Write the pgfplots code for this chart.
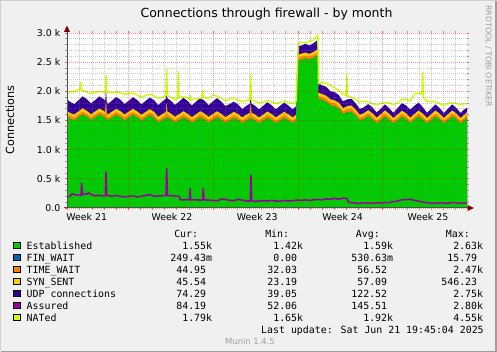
\documentclass[border=0pt]{standalone}
\usepackage{fontspec}
\setmainfont{DejaVu Sans}
\newfontfamily\monofont{DejaVu Sans Mono}
\usepackage{pgfplots}
\pgfplotsset{compat=1.18}
\usepackage{pgfplotstable}
\definecolor{cEst}{HTML}{00CC00}
\definecolor{cFin}{HTML}{0066B3}
\definecolor{cTw}{HTML}{FF8000}
\definecolor{cSyn}{HTML}{FFCC00}
\definecolor{cUdp}{HTML}{330099}
\definecolor{cAss}{HTML}{990099}
\definecolor{cNat}{HTML}{CCFF00}
\definecolor{cBack}{HTML}{F0F0F0}
\definecolor{cShadeA}{HTML}{CFCFCF}
\definecolor{cShadeB}{HTML}{9E9E9E}
\definecolor{cArrow}{HTML}{800000}
\definecolor{cAxis}{HTML}{505050}

\pgfplotstableread{
x est fin tw syn udp
0 1560 0.5 50 55 195
3.0 1525 0.5 50 55 190
7.2 1500 0.5 48 54 180
11.4 1550 0.5 50 55 190
15.6 1600 0.5 52 56 205
19.8 1560 0.5 50 55 200
24.0 1505 0.5 48 54 185
28.2 1550 0.5 50 55 195
32.4 1595 0.5 52 56 210
36.6 1560 0.5 50 55 200
38.3 1540 0.5 50 55 195
39.0 1540 0.5 250 55 200
39.7 1530 0.5 50 55 195
40.8 1500 0.5 48 54 180
45.0 1545 0.5 50 55 190
49.2 1590 0.5 52 56 205
53.4 1555 0.5 50 55 195
57.6 1500 0.5 48 54 180
61.8 1545 0.5 50 55 190
66.0 1590 0.5 52 56 200
70.2 1550 0.5 50 55 195
74.4 1495 0.5 48 54 180
78.6 1540 0.5 50 55 190
82.8 1585 0.5 52 56 200
87.0 1545 0.5 50 55 200
91.2 1460 0.5 48 54 200
95.4 1505 0.5 50 55 215
98.9 1540 0.5 50 56 225
99.6 1550 0.5 200 56 225
100.3 1550 0.5 50 56 225
103.8 1515 0.5 50 55 220
108.0 1460 0.5 48 54 205
112.2 1505 0.5 50 55 215
116.4 1550 0.5 52 56 230
120.6 1510 0.5 50 55 220
124.8 1455 0.5 48 54 200
129.0 1500 0.5 50 55 215
133.2 1550 0.5 52 56 230
137.4 1515 0.5 50 55 220
141.6 1460 0.5 48 54 200
145.8 1505 0.5 50 55 215
150.0 1550 0.5 52 56 225
154.2 1510 0.5 50 55 210
158.4 1455 0.5 48 54 190
162.6 1495 0.5 50 55 180
166.8 1540 0.5 52 56 175
171.0 1505 0.5 50 55 165
175.2 1450 0.5 48 54 145
179.4 1495 0.5 50 55 150
183.0 1530 0.5 50 55 155
183.7 1530 0.5 220 55 160
184.4 1530 0.5 50 55 155
187.8 1500 0.5 50 55 150
192.0 1450 0.5 48 54 140
196.2 1495 0.5 50 55 150
200.4 1545 0.5 52 56 160
204.6 1505 0.5 50 55 150
208.8 1450 0.5 48 54 140
213.0 1495 0.5 50 55 150
217.2 1540 0.5 52 56 160
221.4 1500 0.5 50 55 150
225.6 1450 0.5 48 54 140
229.0 1490 0.5 50 55 145
229.8 2070 0.5 50 55 140
231.0 2520 0.5 50 55 150
234.0 2540 0.5 48 54 140
238.2 2560 0.5 50 55 150
242.4 2540 0.5 48 54 145
246.6 2570 0.5 50 55 150
250.5 2610 0.5 52 56 160
251.2 1870 0.5 50 55 160
255.0 1850 0.5 50 55 150
259.2 1820 0.5 50 55 150
263.4 1760 0.5 48 54 140
267.6 1740 0.5 50 55 140
271.8 1700 0.5 50 55 130
276.0 1610 0.5 48 54 115
280.2 1640 0.5 50 55 115
284.4 1650 0.5 52 56 115
288.6 1580 0.5 50 55 110
292.8 1500 0.5 46 52 100
297.0 1525 0.5 48 54 100
301.2 1570 0.5 50 56 105
305.4 1520 0.5 48 55 100
309.6 1450 0.5 45 52 90
313.8 1505 0.5 48 54 95
318.0 1565 0.5 50 56 105
322.2 1510 0.5 48 55 95
326.4 1445 0.5 45 52 90
330.6 1500 0.5 48 54 110
334.8 1560 0.5 50 56 130
339.0 1520 0.5 48 55 135
343.2 1450 0.5 45 52 140
347.4 1510 0.5 48 54 140
351.6 1565 0.5 50 56 135
355.8 1515 0.5 48 55 110
360.0 1445 0.5 45 52 90
364.2 1505 0.5 48 54 95
368.4 1565 0.5 50 56 105
372.6 1515 0.5 48 55 95
376.8 1445 0.5 45 52 85
381.0 1505 0.5 48 54 95
385.2 1565 0.5 50 56 105
389.4 1515 0.5 48 55 95
393.6 1445 0.5 45 52 85
397.8 1505 0.5 48 54 90
400.0 1550 0.5 45 46 74
}\stacktab

\pgfplotstableread{
x v
0 1950
3.0 2000
7.2 1990
11.4 2030
13.0 2030
13.7 2170
14.5 2020
19.8 1990
24.0 1960
28.2 1980
32.4 2000
36.6 1980
38.3 1980
39.0 2280
39.8 1990
45.0 1970
49.2 1990
53.4 1980
57.6 1950
61.8 1960
66.0 1970
70.2 1940
74.4 1900
78.6 1930
82.8 1950
87.0 1920
91.2 1880
95.4 1900
98.8 1920
99.6 2380
100.4 1930
103.8 1900
108.0 1860
110.5 1880
111.3 2340
112.1 1890
116.4 1910
120.6 1880
122.2 1860
123.0 1920
123.8 1850
129.0 1870
133.2 1880
135.0 1890
135.7 2020
136.4 1890
141.6 1880
145.8 1930
150.0 1920
154.2 1880
158.4 1840
162.6 1870
166.8 1880
171.0 1850
175.2 1820
179.4 1840
183.0 1860
183.7 2300
184.4 1860
188.0 1830
192.0 1800
196.2 1820
200.4 1840
204.6 1820
208.8 1790
213.0 1810
217.2 1830
221.4 1810
225.6 1790
229.0 1820
230.0 2200
231.5 2820
234.0 2840
238.2 2830
242.4 2860
246.6 2880
250.0 2950
250.8 2950
251.5 2130
255.0 2150
259.2 2140
263.4 2100
267.6 2060
271.8 2020
276.0 1960
279.0 1930
279.7 2290
280.4 1920
284.4 1900
288.6 1860
292.8 1820
297.0 1830
301.2 1820
305.4 1790
309.6 1770
313.8 1790
318.0 1810
322.2 1800
326.4 1770
330.6 1800
334.8 1860
339.0 1870
343.2 1830
347.4 1960
351.6 1970
355.0 1950
355.7 2330
356.4 1900
360.0 1820
364.2 1830
368.4 1820
372.6 1790
376.8 1760
381.0 1790
385.2 1810
389.4 1790
393.6 1770
397.8 1790
400.0 1790
}\nattab

\pgfplotstableread{
x v
0 190
3.0 200
5.0 240
7.2 230
11.4 220
14.0 220
14.7 430
15.4 230
19.8 240
22.0 260
24.0 230
28.2 210
32.4 215
36.6 205
38.3 210
39.0 620
39.7 220
45.0 200
49.2 215
53.4 200
57.6 190
61.8 200
66.0 205
70.2 190
74.4 200
78.6 215
82.8 230
87.0 200
91.2 205
95.4 210
99.0 215
99.7 680
100.4 215
103.8 210
108.0 205
112.2 200
113.5 140
116.4 140
120.6 145
122.3 140
123.0 340
123.7 140
129.0 140
133.2 135
135.6 140
136.3 340
137.0 140
141.6 135
145.8 130
150.0 125
154.2 150
158.4 150
162.6 130
166.8 125
171.0 150
175.2 135
179.4 120
183.3 120
184.0 566
184.7 130
188.0 110
192.0 120
196.2 125
200.4 120
204.6 130
208.8 120
213.0 115
217.2 130
221.4 120
225.6 125
229.8 135
234.0 130
238.2 140
242.4 130
246.6 140
250.8 145
255.0 140
259.2 155
263.4 150
267.6 165
271.8 150
276.0 170
280.0 160
281.5 100
284.4 90
288.6 85
292.8 80
297.0 90
301.2 85
305.4 80
309.6 90
313.8 85
318.0 95
322.2 90
326.4 110
330.6 120
334.8 140
339.0 145
343.2 150
347.4 130
351.6 120
355.8 100
360.0 90
364.2 85
368.4 80
372.6 90
376.8 85
381.0 80
385.2 95
389.4 90
393.6 80
397.8 90
400.0 85
}\asstab

\newcommand\lgf{\monofont\fontsize{9.9}{12}\selectfont}

\begin{document}
\begin{tikzpicture}[x=1pt,y=1pt]
\fill[cBack] (0,0) rectangle (497,352);
\draw[cShadeA, line width=2pt] (0,1) -- (0,352) -- (497,352);
\draw[cShadeB, line width=2pt] (1,0) -- (496,0) -- (496,351);
\begin{axis}[
  at={(67pt,144pt)}, anchor=south west,
  scale only axis, width=400pt, height=175pt,
  xmin=0, xmax=400, ymin=0, ymax=3000,
  axis line style={draw=none},
  axis background/.style={fill=white},
  axis on top,
  clip=true,
  xtick={61.3,146.1,231.0,315.8},
  xticklabels={},
  minor xtick={0.7,12.8,24.9,37.0,49.2,73.4,85.5,97.6,109.8,121.9,134.0,158.2,170.4,182.5,194.6,206.7,218.8,243.1,255.2,267.3,279.4,291.6,303.7,327.9,340.0,352.2,364.3,376.4,388.5},
  extra x ticks={19.7,105,190.3,275.6,360.9},
  extra x tick labels={Week 21,Week 22,Week 23,Week 24,Week 25},
  extra x tick style={grid=none, major tick length=0pt},
  ytick={0,500,1000,1500,2000,2500,3000},
  yticklabels={0.0,0.5 k,1.0 k,1.5 k,2.0 k,2.5 k,3.0 k},
  minor ytick={100,200,300,400,600,700,800,900,1100,1200,1300,1400,1600,1700,1800,1900,2100,2200,2300,2400,2600,2700,2800,2900},
  grid=both,
  major grid style={draw=red, opacity=0.4, dash pattern=on 1pt off 1pt, line width=0.7pt},
  minor grid style={draw=black!55, opacity=0.35, dash pattern=on 1pt off 1pt, line width=0.7pt},
  tick align=outside, major tick length=2pt, minor tick length=2pt,
  major tick style={draw=red!70, line width=0.7pt},
  minor tick style={draw=black!40, line width=0.7pt},
  ticklabel style={font=\fontsize{9.4}{11}\selectfont, inner sep=0pt},
  yticklabel style={xshift=-4.5pt},
  xticklabel style={yshift=-5pt},
]
\addplot[fill=cUdp, draw=none] table[x=x, y expr=\thisrow{est}+\thisrow{fin}+\thisrow{tw}+\thisrow{syn}+\thisrow{udp}] {\stacktab} \closedcycle;
\addplot[fill=cSyn, draw=none] table[x=x, y expr=\thisrow{est}+\thisrow{fin}+\thisrow{tw}+\thisrow{syn}] {\stacktab} \closedcycle;
\addplot[fill=cTw, draw=none] table[x=x, y expr=\thisrow{est}+\thisrow{fin}+\thisrow{tw}] {\stacktab} \closedcycle;
\addplot[fill=cFin, draw=none] table[x=x, y expr=\thisrow{est}+\thisrow{fin}] {\stacktab} \closedcycle;
\addplot[fill=cEst, draw=none] table[x=x, y=est] {\stacktab} \closedcycle;
\addplot[cAss, line width=1.6pt] table[x=x, y=v] {\asstab};
\addplot[cNat, line width=1.4pt] table[x=x, y=v] {\nattab};
\end{axis}
% axes
\draw[cAxis, line width=1pt] (67,144) -- (67,320.5);
\draw[cAxis, line width=1pt] (63.5,144) -- (467.5,144);
\fill[cArrow] (64,320) -- (70,320) -- (67,326.5) -- cycle;
\fill[cArrow] (467.5,141) -- (467.5,147) -- (474,144) -- cycle;
% title and labels
\node[font=\fontsize{12.5}{15}\selectfont, anchor=center] at (266.5,337.7) {Connections through firewall - by month};
\node[font=\fontsize{11.2}{13}\selectfont, rotate=90, anchor=center] at (10,232) {Connections};
\node[font=\fontsize{7.9}{9}\selectfont, text=black!38, rotate=-90, anchor=center] at (488.5,296) {RRDTOOL / TOBI OETIKER};
% legend
\tikzset{lt/.style={inner sep=0pt, font=\lgf}}
\node[lt, anchor=mid east] at (198.3,117.5) {Cur:};
\node[lt, anchor=mid east] at (289.3,117.5) {Min:};
\node[lt, anchor=mid east] at (380,117.5) {Avg:};
\node[lt, anchor=mid east] at (470,117.5) {Max:};
% rows
\foreach \yc/\col/\nm/\cu/\mi/\av/\ma in {
  105.5/cEst/Established/1.55k/1.42k/1.59k/2.63k,
  93.5/cFin/FIN\_WAIT/249.43m/0.00\phantom{k}/530.63m/15.79\phantom{k},
  81.5/cTw/TIME\_WAIT/44.95\phantom{k}/32.03\phantom{k}/56.52\phantom{k}/2.47k,
  69.5/cSyn/SYN\_SENT/45.54\phantom{k}/23.19\phantom{k}/57.09\phantom{k}/546.23\phantom{k},
  57.5/cUdp/UDP connections/74.29\phantom{k}/39.05\phantom{k}/122.52\phantom{k}/2.75k,
  45.5/cAss/Assured/84.19\phantom{k}/52.06\phantom{k}/145.51\phantom{k}/2.80k,
  33.5/cNat/NATed/1.79k/1.65k/1.92k/4.55k}{
  \filldraw[fill=\col, draw=black, line width=0.8pt] (13.8,\yc-2.3) rectangle (20.4,\yc+4.3);
  \node[lt, anchor=mid west] at (26.5,\yc) {\nm};
  \node[lt, anchor=mid east] at (212.3,\yc) {\cu};
  \node[lt, anchor=mid east] at (303.3,\yc) {\mi};
  \node[lt, anchor=mid east] at (393.3,\yc) {\av};
  \node[lt, anchor=mid east] at (483.3,\yc) {\ma};
}
\node[lt, anchor=mid west] at (261,21.5) {Last update: Sat Jun 21 19:45:04 2025};
\node[font=\fontsize{8.4}{10}\selectfont, text=black!38, anchor=center] at (250,10.7) {Munin 1.4.5};
\pgfresetboundingbox
\useasboundingbox (0,0) rectangle (497,352);
\end{tikzpicture}
\end{document}
